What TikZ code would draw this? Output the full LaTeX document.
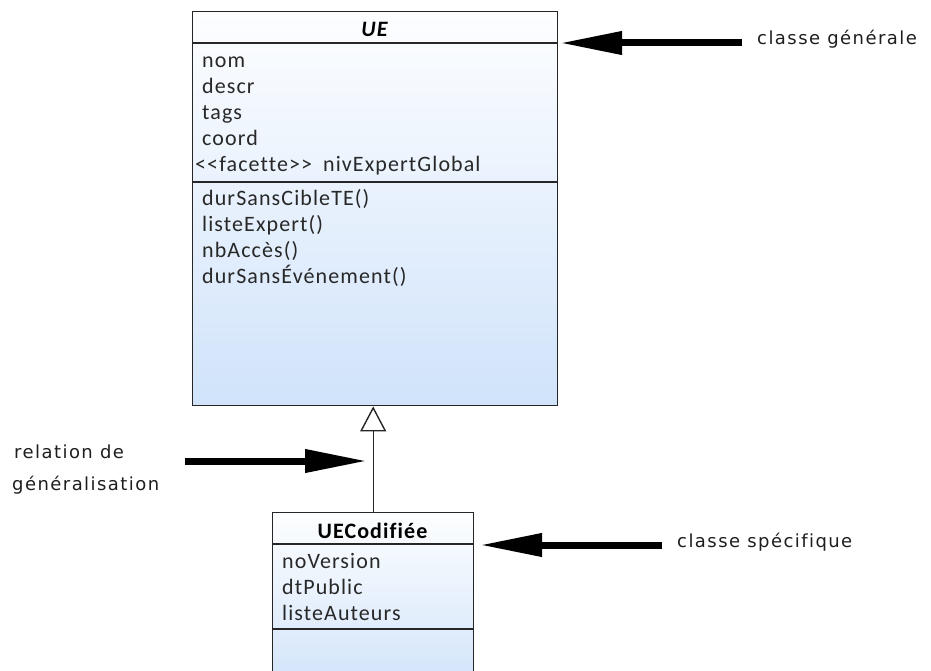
\documentclass[tikz,border=0pt]{standalone}
\usepackage{fontspec}
\setmainfont{Carlito}
\newfontfamily\boxfont[LetterSpace=5,Ligatures=NoCommon]{Carlito}
\newfontfamily\lblfont[LetterSpace=8,Ligatures=NoCommon]{DejaVu Sans}
\usetikzlibrary{arrows.meta}
\definecolor{boxtop}{RGB}{253,254,255}
\definecolor{boxbot}{RGB}{208,227,250}
\definecolor{txt}{RGB}{40,40,40}
\definecolor{lbl}{RGB}{30,30,30}
\begin{document}
\begin{tikzpicture}[x=1pt,y=-1pt,
  classbox/.style={draw=black!85, line width=1.4pt, top color=boxtop, bottom color=boxbot, inner sep=0pt, anchor=north west},
  sepline/.style={draw=black!85, line width=1.4pt},
  member/.style={anchor=base west, inner sep=0pt, text=txt, font=\boxfont\fontsize{22}{26}\selectfont},
  classtitle/.style={anchor=base, inner sep=0pt, text=black, font=\boxfont\fontsize{22}{26}\selectfont\bfseries},
  note/.style={anchor=base west, inner sep=0pt, text=lbl, font=\lblfont\fontsize{18}{22}\selectfont},
  pointer/.style={line width=7pt, -{Triangle[length=62pt,width=22pt]}},
  inherit/.style={draw=black!85, line width=1.4pt, -{Triangle[open,length=25pt,width=26pt,fill=white]}}
]
\clip (0,0) rectangle (931,671);
% general class
\node[classbox, minimum width=365pt, minimum height=394pt] (ue) at (192,11) {};
\draw[sepline] (192,43) -- (557,43);
\draw[sepline] (192,182) -- (557,182);
\node[classtitle, font=\boxfont\fontsize{22}{26}\selectfont\bfseries\itshape] (uet) at (374.5,37) {UE};
\node[member] (a1) at (202,68) {nom};
\node[member] (a2) at (202,94) {descr};
\node[member] (a3) at (202,120) {tags};
\node[member] (a4) at (202,146) {coord};
\node[member] (a5) at (195,172) {<{}<facette>{}>\hspace{0.5em}nivExpertGlobal};
\node[member] (m1) at (202,205) {durSansCibleTE()};
\node[member] (m2) at (202,231) {listeExpert()};
\node[member] (m3) at (202,257) {nbAccès()};
\node[member] (m4) at (202,283) {durSansÉvénement()};
% specific class
\node[classbox, minimum width=201pt, minimum height=180pt] (uec) at (272,512) {};
\draw[sepline] (272,544) -- (473,544);
\draw[sepline] (272,629) -- (473,629);
\node[classtitle] (uect) at (372.5,538) {UECodifiée};
\node[member] (b1) at (282,568) {noVersion};
\node[member] (b2) at (282,594) {dtPublic};
\node[member] (b3) at (282,620) {listeAuteurs};
% generalisation
\draw[inherit] (uec.north) -- (uec.north |- ue.south);
% notes
\node[note] (n1) at (757,45) {classe générale};
\node[note] (n2) at (677,547) {classe spécifique};
\node[note] (n3a) at (14,458) {relation de};
\node[note] (n3b) at (12,490) {généralisation};
\coordinate (p1s) at (742,43);
\coordinate (p1e) at (560,43);
\coordinate (p2s) at (662,545);
\coordinate (p2e) at (480,545);
\coordinate (p3s) at (185,461);
\coordinate (p3e) at (367,461);
\draw[pointer] (p1s) -- (p1e);
\draw[pointer] (p2s) -- (p2e);
\draw[pointer] (p3s) -- (p3e);
\end{tikzpicture}
\end{document}
